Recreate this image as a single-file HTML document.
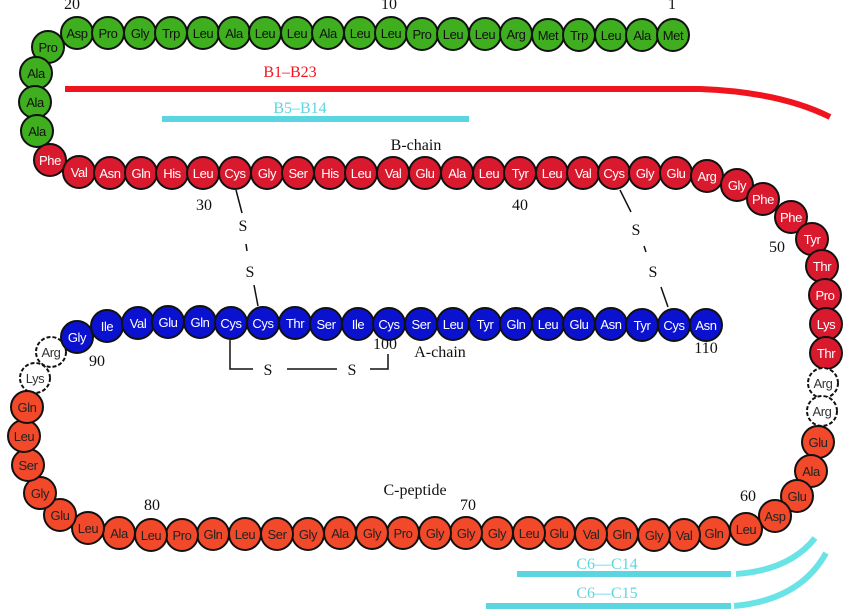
<!DOCTYPE html>
<html><head><meta charset="utf-8"><style>
html,body{margin:0;padding:0;background:#fff;}
svg{display:block;}
.a circle{r:16px;}
.a text{font-family:"Liberation Sans",sans-serif;font-size:13px;text-anchor:middle;letter-spacing:-0.4px;}
.lbl{font-family:"Liberation Serif",serif;font-size:16px;text-anchor:middle;}
.g circle{fill:#3faf1f;stroke:#111;stroke-width:2;}
.g text{fill:#111;}
.r circle{fill:#d91a2e;stroke:#111;stroke-width:2;}
.r text{fill:#fff;}
.b circle{fill:#0a12d0;stroke:#111;stroke-width:2;}
.b text{fill:#fff;}
.o circle{fill:#f2492a;stroke:#111;stroke-width:2;}
.o text{fill:#222;}
.d circle{r:15px;fill:#fff;stroke:#111;stroke-width:2;stroke-dasharray:4 2;}
.d text{fill:#333;}
</style></head><body>
<svg width="850" height="612" viewBox="0 0 850 612" xmlns="http://www.w3.org/2000/svg">
<path d="M65 89 L700 89 Q780 92 830 117" fill="none" stroke="#f0141e" stroke-width="6"/>
<line x1="162" y1="119" x2="469" y2="119" stroke="#5bd6e0" stroke-width="6"/>
<line x1="517" y1="574" x2="731" y2="574" stroke="#5bd6e0" stroke-width="6"/>
<path d="M736 574 Q790 570 815 538" fill="none" stroke="#6ae3e6" stroke-width="6"/>
<line x1="486" y1="606" x2="731" y2="606" stroke="#5bd6e0" stroke-width="6"/>
<path d="M734 606 Q800 600 826 553" fill="none" stroke="#6ae3e6" stroke-width="6"/>
<g stroke="#111" stroke-width="1.5" fill="none">
<line x1="236" y1="190" x2="242" y2="213"/><line x1="246" y1="244" x2="247" y2="251"/><line x1="254" y1="285" x2="258" y2="306"/>
<line x1="620" y1="190" x2="631" y2="212"/><line x1="644" y1="246" x2="646" y2="252"/><line x1="661" y1="287" x2="668" y2="307"/>
<polyline points="230,340 230,369 253,369"/><line x1="287" y1="369" x2="337" y2="369"/><polyline points="370,369 388,369 388,354"/>
</g>
<g class="lbl" fill="#111">
<text x="243" y="231">S</text><text x="250" y="277">S</text>
<text x="636" y="235">S</text><text x="653" y="277">S</text>
<text x="268" y="375">S</text><text x="352" y="375">S</text>
<text x="72" y="9">20</text><text x="389" y="9">10</text><text x="672" y="9">1</text>
<text x="290" y="77" fill="#f0141e">B1–B23</text>
<text x="300" y="113" fill="#5bd6e0">B5–B14</text>
<text x="416" y="150">B-chain</text>
<text x="204" y="210">30</text><text x="520" y="210">40</text><text x="777" y="252">50</text>
<text x="97" y="366">90</text><text x="385" y="349">100</text><text x="440" y="357">A-chain</text>
<text x="706" y="353">110</text>
<text x="415" y="495">C-peptide</text>
<text x="152" y="510">80</text><text x="468" y="510">70</text><text x="748" y="501">60</text>
<text x="607" y="569" fill="#5bd6e0">C6—C14</text><text x="607" y="598" fill="#5bd6e0">C6—C15</text>
</g>
<g class="a g">
<circle cx="48" cy="47" r="16"/><text x="48" y="52">Pro</text>
<circle cx="77" cy="33" r="16"/><text x="77" y="38">Asp</text>
<circle cx="108" cy="33" r="16"/><text x="108" y="38">Pro</text>
<circle cx="140" cy="33" r="16"/><text x="140" y="38">Gly</text>
<circle cx="171" cy="33" r="16"/><text x="171" y="38">Trp</text>
<circle cx="203" cy="33" r="16"/><text x="203" y="38">Leu</text>
<circle cx="234" cy="33" r="16"/><text x="234" y="38">Ala</text>
<circle cx="265" cy="33" r="16"/><text x="265" y="38">Leu</text>
<circle cx="297" cy="33" r="16"/><text x="297" y="38">Leu</text>
<circle cx="328" cy="33" r="16"/><text x="328" y="38">Ala</text>
<circle cx="360" cy="33" r="16"/><text x="360" y="38">Leu</text>
<circle cx="391" cy="33" r="16"/><text x="391" y="38">Leu</text>
<circle cx="422" cy="34" r="16"/><text x="422" y="39">Pro</text>
<circle cx="453" cy="34" r="16"/><text x="453" y="39">Leu</text>
<circle cx="485" cy="34" r="16"/><text x="485" y="39">Leu</text>
<circle cx="516" cy="34" r="16"/><text x="516" y="39">Arg</text>
<circle cx="548" cy="35" r="16"/><text x="548" y="40">Met</text>
<circle cx="579" cy="35" r="16"/><text x="579" y="40">Trp</text>
<circle cx="611" cy="35" r="16"/><text x="611" y="40">Leu</text>
<circle cx="642" cy="35" r="16"/><text x="642" y="40">Ala</text>
<circle cx="673" cy="35" r="16"/><text x="673" y="40">Met</text>
<circle cx="36" cy="73" r="16"/><text x="36" y="78">Ala</text>
<circle cx="35" cy="102" r="16"/><text x="35" y="107">Ala</text>
<circle cx="37" cy="131" r="16"/><text x="37" y="136">Ala</text>
</g>
<g class="a r">
<circle cx="50" cy="160" r="16"/><text x="50" y="165">Phe</text>
<circle cx="79" cy="172" r="16"/><text x="79" y="177">Val</text>
<circle cx="110" cy="173" r="16"/><text x="110" y="178">Asn</text>
<circle cx="141" cy="173" r="16"/><text x="141" y="178">Gln</text>
<circle cx="172" cy="173" r="16"/><text x="172" y="178">His</text>
<circle cx="203" cy="173" r="16"/><text x="203" y="178">Leu</text>
<circle cx="235" cy="173" r="16"/><text x="235" y="178">Cys</text>
<circle cx="267" cy="173" r="16"/><text x="267" y="178">Gly</text>
<circle cx="298" cy="173" r="16"/><text x="298" y="178">Ser</text>
<circle cx="330" cy="173" r="16"/><text x="330" y="178">His</text>
<circle cx="361" cy="173" r="16"/><text x="361" y="178">Leu</text>
<circle cx="393" cy="173" r="16"/><text x="393" y="178">Val</text>
<circle cx="425" cy="173" r="16"/><text x="425" y="178">Glu</text>
<circle cx="457" cy="173" r="16"/><text x="457" y="178">Ala</text>
<circle cx="489" cy="173" r="16"/><text x="489" y="178">Leu</text>
<circle cx="520" cy="173" r="16"/><text x="520" y="178">Tyr</text>
<circle cx="552" cy="173" r="16"/><text x="552" y="178">Leu</text>
<circle cx="583" cy="173" r="16"/><text x="583" y="178">Val</text>
<circle cx="614" cy="173" r="16"/><text x="614" y="178">Cys</text>
<circle cx="645" cy="173" r="16"/><text x="645" y="178">Gly</text>
<circle cx="676" cy="173" r="16"/><text x="676" y="178">Glu</text>
<circle cx="707" cy="176" r="16"/><text x="707" y="181">Arg</text>
<circle cx="737" cy="185" r="16"/><text x="737" y="190">Gly</text>
<circle cx="763" cy="199" r="16"/><text x="763" y="204">Phe</text>
<circle cx="791" cy="217" r="16"/><text x="791" y="222">Phe</text>
<circle cx="812" cy="239" r="16"/><text x="812" y="244">Tyr</text>
<circle cx="822" cy="266" r="16"/><text x="822" y="271">Thr</text>
<circle cx="825" cy="295" r="16"/><text x="825" y="300">Pro</text>
<circle cx="826" cy="324" r="16"/><text x="826" y="329">Lys</text>
<circle cx="826" cy="353" r="16"/><text x="826" y="358">Thr</text>
</g>
<g class="a d">
<circle cx="823" cy="383" r="15"/><text x="823" y="388">Arg</text>
<circle cx="822" cy="411" r="15"/><text x="822" y="416">Arg</text>
<circle cx="51" cy="352" r="15"/><text x="51" y="357">Arg</text>
<circle cx="35" cy="378" r="15"/><text x="35" y="383">Lys</text>
</g>
<g class="a o">
<circle cx="818" cy="442" r="16"/><text x="818" y="447">Glu</text>
<circle cx="811" cy="471" r="16"/><text x="811" y="476">Ala</text>
<circle cx="797" cy="496" r="16"/><text x="797" y="501">Glu</text>
<circle cx="775" cy="516" r="16"/><text x="775" y="521">Asp</text>
<circle cx="746" cy="529" r="16"/><text x="746" y="534">Leu</text>
<circle cx="714" cy="533" r="16"/><text x="714" y="538">Gln</text>
<circle cx="684" cy="535" r="16"/><text x="684" y="540">Val</text>
<circle cx="654" cy="535" r="16"/><text x="654" y="540">Gly</text>
<circle cx="622" cy="534" r="16"/><text x="622" y="539">Gln</text>
<circle cx="591" cy="534" r="16"/><text x="591" y="539">Val</text>
<circle cx="559" cy="533" r="16"/><text x="559" y="538">Glu</text>
<circle cx="529" cy="533" r="16"/><text x="529" y="538">Leu</text>
<circle cx="497" cy="533" r="16"/><text x="497" y="538">Gly</text>
<circle cx="466" cy="533" r="16"/><text x="466" y="538">Gly</text>
<circle cx="435" cy="533" r="16"/><text x="435" y="538">Gly</text>
<circle cx="403" cy="533" r="16"/><text x="403" y="538">Pro</text>
<circle cx="372" cy="533" r="16"/><text x="372" y="538">Gly</text>
<circle cx="340" cy="533" r="16"/><text x="340" y="538">Ala</text>
<circle cx="308" cy="534" r="16"/><text x="308" y="539">Gly</text>
<circle cx="277" cy="534" r="16"/><text x="277" y="539">Ser</text>
<circle cx="245" cy="534" r="16"/><text x="245" y="539">Leu</text>
<circle cx="213" cy="534" r="16"/><text x="213" y="539">Gln</text>
<circle cx="182" cy="535" r="16"/><text x="182" y="540">Pro</text>
<circle cx="151" cy="535" r="16"/><text x="151" y="540">Leu</text>
<circle cx="119" cy="533" r="16"/><text x="119" y="538">Ala</text>
<circle cx="88" cy="528" r="16"/><text x="88" y="533">Leu</text>
<circle cx="60" cy="515" r="16"/><text x="60" y="520">Glu</text>
<circle cx="40" cy="493" r="16"/><text x="40" y="498">Gly</text>
<circle cx="28" cy="465" r="16"/><text x="28" y="470">Ser</text>
<circle cx="24" cy="436" r="16"/><text x="24" y="441">Leu</text>
<circle cx="27" cy="407" r="16"/><text x="27" y="412">Gln</text>
</g>
<g class="a b">
<circle cx="77" cy="337" r="16"/><text x="77" y="342">Gly</text>
<circle cx="107" cy="326" r="16"/><text x="107" y="331">Ile</text>
<circle cx="138" cy="323" r="16"/><text x="138" y="328">Val</text>
<circle cx="168" cy="322" r="16"/><text x="168" y="327">Glu</text>
<circle cx="200" cy="322" r="16"/><text x="200" y="327">Gln</text>
<circle cx="231" cy="323" r="16"/><text x="231" y="328">Cys</text>
<circle cx="263" cy="323" r="16"/><text x="263" y="328">Cys</text>
<circle cx="295" cy="323" r="16"/><text x="295" y="328">Thr</text>
<circle cx="326" cy="324" r="16"/><text x="326" y="329">Ser</text>
<circle cx="358" cy="324" r="16"/><text x="358" y="329">Ile</text>
<circle cx="389" cy="324" r="16"/><text x="389" y="329">Cys</text>
<circle cx="421" cy="324" r="16"/><text x="421" y="329">Ser</text>
<circle cx="453" cy="324" r="16"/><text x="453" y="329">Leu</text>
<circle cx="485" cy="324" r="16"/><text x="485" y="329">Tyr</text>
<circle cx="516" cy="324" r="16"/><text x="516" y="329">Gln</text>
<circle cx="548" cy="324" r="16"/><text x="548" y="329">Leu</text>
<circle cx="579" cy="324" r="16"/><text x="579" y="329">Glu</text>
<circle cx="611" cy="324" r="16"/><text x="611" y="329">Asn</text>
<circle cx="642" cy="325" r="16"/><text x="642" y="330">Tyr</text>
<circle cx="674" cy="325" r="16"/><text x="674" y="330">Cys</text>
<circle cx="706" cy="325" r="16"/><text x="706" y="330">Asn</text>
</g>
</svg>
</body></html>
